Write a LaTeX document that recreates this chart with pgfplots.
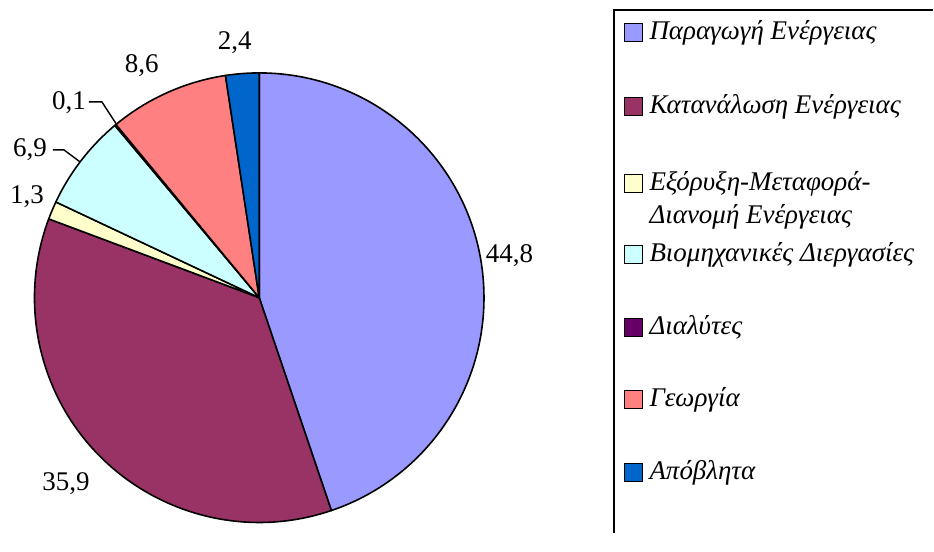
\documentclass[border=0pt]{standalone}
\usepackage{pgfplots}
\pgfplotsset{compat=1.18}
\usepackage{fontspec}
\setmainfont{Liberation Serif}
\definecolor{cA}{HTML}{9999FF}
\definecolor{cB}{HTML}{993366}
\definecolor{cC}{HTML}{FFFFCC}
\definecolor{cD}{HTML}{CCFFFF}
\definecolor{cE}{HTML}{660066}
\definecolor{cF}{HTML}{FF8080}
\definecolor{cG}{HTML}{0066CC}
% #1 = cumulative share before the slice, #2 = share, #3 = colour
\newcommand\slice[3]{\filldraw[fill=#3,draw=black,line width=1.6pt,line join=round]
  (axis cs:259.5,236) -- ++({90-3.6*(#1)}:225pt)
  arc[start angle={90-3.6*(#1)}, end angle={90-3.6*(#1+#2)}, radius=225pt] -- cycle;}
\newcommand\legmark[2]{\filldraw[fill=#2,draw=black,line width=1pt]
  (axis cs:625,#1-9) rectangle (axis cs:643,#1+9);}
\begin{document}
\begin{tikzpicture}
\begin{axis}[scale only axis, width=934pt, height=534pt,
  xmin=0, xmax=934, ymin=0, ymax=534, hide axis, clip=false]
\path (axis cs:0,0) rectangle (axis cs:934,534);
% pie: shares 44.8, 35.9, 1.3, 6.9, 0.1, 8.6, 2.4 (clockwise from top)
\slice{0}{44.8}{cA}
\slice{44.8}{35.9}{cB}
\slice{80.7}{1.3}{cC}
\slice{82.0}{6.9}{cD}
\slice{88.9}{0.1}{cE}
\slice{89.0}{8.6}{cF}
\slice{97.6}{2.4}{cG}
% value labels
\begin{scope}[every node/.style={font=\fontsize{27}{31}\selectfont, inner sep=0pt}]
\node at (axis cs:510,278) {44,8};
\node at (axis cs:66,50) {35,9};
\node at (axis cs:27,337) {1,3};
\node at (axis cs:30,384) {6,9};
\node at (axis cs:69,431) {0,1};
\node at (axis cs:142,468) {8,6};
\node at (axis cs:235,491) {2,4};
\end{scope}
\draw[line width=1.4pt] (axis cs:53,384) -- (axis cs:64,384) -- (axis cs:80,372);
\draw[line width=1.4pt] (axis cs:89,432) -- (axis cs:102,432) -- (axis cs:117,409);
% legend
\draw[line width=2pt] (axis cs:934,524) -- (axis cs:615,524) -- (axis cs:615,0);
\legmark{501}{cA}
\legmark{427}{cB}
\legmark{350}{cC}
\legmark{279}{cD}
\legmark{206}{cE}
\legmark{134}{cF}
\legmark{61}{cG}
\begin{scope}[every node/.style={anchor=west, inner sep=0pt, font=\fontsize{27}{31}\selectfont\itshape}]
\node at (axis cs:650,501) {Παραγωγή Ενέργειας};
\node at (axis cs:650,427) {Κατανάλωση Ενέργειας};
\node at (axis cs:650,350) {Εξόρυξη-Μεταφορά-};
\node at (axis cs:650,317) {Διανομή Ενέργειας};
\node at (axis cs:650,279) {Βιομηχανικές Διεργασίες};
\node at (axis cs:650,206) {Διαλύτες};
\node at (axis cs:650,134) {Γεωργία};
\node at (axis cs:650,61) {Απόβλητα};
\end{scope}
\end{axis}
\end{tikzpicture}
\end{document}
